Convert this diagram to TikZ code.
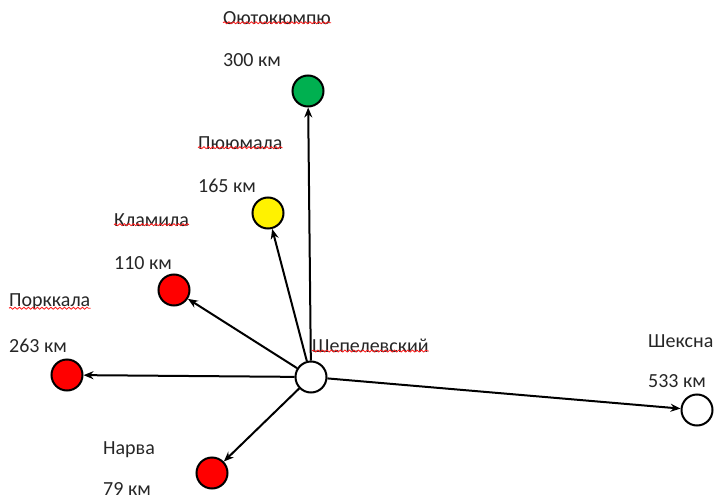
\documentclass[tikz,border=0pt]{standalone}
\usepackage{fontspec}
\setmainfont{Carlito}
\usetikzlibrary{arrows.meta,decorations.pathmorphing}
\begin{document}
\begin{tikzpicture}[x=1pt,y=-1pt,
  city/.style={circle,draw=black,line width=2pt,minimum size=31pt,inner sep=0pt},
  lbl/.style={anchor=west,inner sep=0pt,font=\fontsize{20}{22}\selectfont,text=black!85},
  conn/.style={line width=2pt,-{Stealth[length=10pt,width=8pt]}},
  squig/.style={draw=red!90!white,line width=0.8pt,decorate,decoration={snake,amplitude=1pt,segment length=4.5pt}}]
\useasboundingbox (0,0) rectangle (717,500);
% circles
\node[city,fill=white] (sh) at (311,377) {};
\node[city,fill={rgb,255:red,0;green,176;blue,80}] (oj) at (308,91) {};
\node[city,fill=yellow] (pj) at (268,213) {};
\node[city,fill=red] (kl) at (174,290) {};
\node[city,fill=red] (pk) at (67,375) {};
\node[city,fill=red] (nr) at (212,473) {};
\node[city,fill=white] (sk) at (697,410) {};
% labels
\node[lbl] (ojn) at (223,18) {Оютокюмпю};
\node[lbl] (ojd) at (223,60) {300 км};
\node[lbl] (pjn) at (198,143) {Пююмала};
\node[lbl] (pjd) at (198,186) {165 км};
\node[lbl] (kln) at (114,220) {Кламила};
\node[lbl] (kld) at (114,263) {110 км};
\node[lbl] (pkn) at (9,302) {Порккала};
\node[lbl] (pkd) at (9,346) {263 км};
\node[lbl] (shn) at (312,346) {Шепелевский};
\node[lbl] (skn) at (648,341) {Шексна};
\node[lbl] (skd) at (648,381) {533 км};
\node[lbl] (nrn) at (103,450) {Нарва};
\node[lbl] (nrd) at (103,489) {79 км};
% squiggles
\foreach \n in {ojn,pjn,kln,pkn,shn}{
  \draw[squig] ([yshift=2pt]\n.south west) -- ([yshift=2pt]\n.south east);
}
% connectors
\draw[conn] (sh) -- (oj);
\draw[conn] (sh) -- (pj);
\draw[conn] (sh) -- (kl);
\draw[conn] (sh) -- (pk);
\draw[conn] (sh) -- (nr);
\draw[conn] (sh) -- (sk);
\end{tikzpicture}
\end{document}
